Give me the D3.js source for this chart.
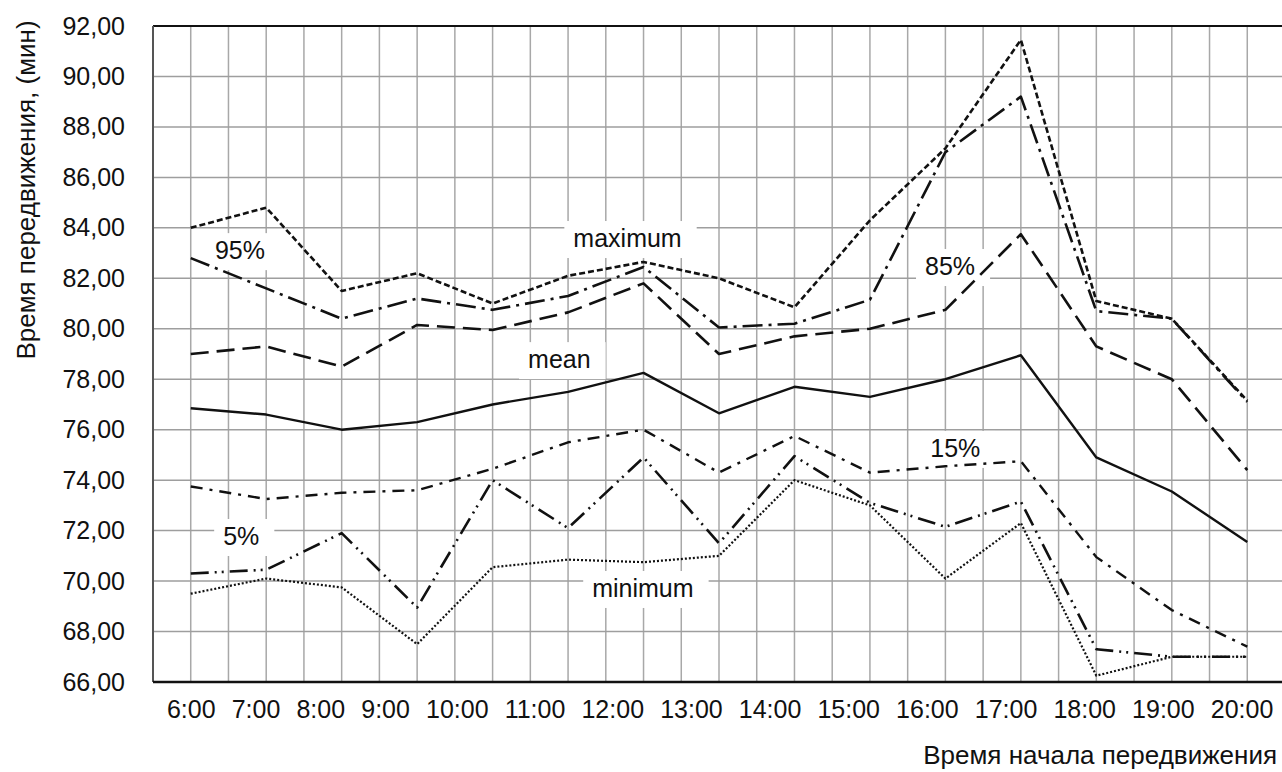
<!DOCTYPE html>
<html>
<head>
<meta charset="utf-8">
<script src="https://cdn.jsdelivr.net/npm/d3@7"></script>
<style>
  body { margin: 0; background: #fff; }
  text { font-family: Arial, "Liberation Sans", sans-serif; fill: #111; }
</style>
</head>
<body>
<div id="chart"></div>
<script>
// values (minutes)
const hours = ["6:00", "7:00", "8:00", "9:00", "10:00", "11:00", "12:00", "13:00",
  "14:00", "15:00", "16:00", "17:00", "18:00", "19:00", "20:00"];
const maximum = [84.0, 84.8, 81.5, 82.2, 81.0, 82.1, 82.65, 82.0, 80.85, 84.3, 87.15, 91.45, 81.1, 80.4, 77.15];
const p95 = [82.8, 81.6, 80.4, 81.2, 80.75, 81.3, 82.45, 80.05, 80.2, 81.15, 87.0, 89.2, 80.7, 80.4, 77.1];
const p85 = [79.0, 79.3, 78.5, 80.15, 79.95, 80.65, 81.8, 79.0, 79.7, 80.0, 80.75, 83.75, 79.3, 78.0, 74.4];
const mean = [76.85, 76.6, 76.0, 76.3, 77.0, 77.5, 78.25, 76.65, 77.7, 77.3, 78.0, 78.95, 74.9, 73.55, 71.55];
const p15 = [73.75, 73.25, 73.5, 73.6, 74.45, 75.5, 76.0, 74.3, 75.75, 74.3, 74.55, 74.75, 70.95, 68.85, 67.4];
const p5 = [70.3, 70.45, 71.9, 68.95, 74.0, 72.1, 74.9, 71.5, 74.95, 73.1, 72.15, 73.15, 67.3, 67.0, 67.0];
const minimum = [69.5, 70.1, 69.75, 67.5, 70.55, 70.85, 70.75, 71.0, 74.0, 73.0, 70.1, 72.3, 66.25, 67.0, 67.0];
const yTicks = d3.range(66, 93, 2);

const width = 1282, height = 772;
const margin = { top: 26, left: 153 };
const plotW = 1132, plotH = 656;

const series = [
  { values: maximum, dash: '6,3', w: 2.6 },
  { values: p95, dash: '20,6,3,6', w: 2.6 },
  { values: p85, dash: '18,8', w: 2.6 },
  { values: mean, dash: null, w: 2.4 },
  { values: p15, dash: '12,7,3,7', w: 2.4 },
  { values: p5, dash: '18,6,2,5,2,6', w: 2.6 },
  { values: minimum, dash: '2,2', w: 2.2 }
];

// labels placed in data units: [category offset, minutes]
const notes = [
  { text: 'maximum', at: [5.07, 83.24] },
  { text: '95%', at: [0.32, 82.76] },
  { text: '85%', at: [9.73, 82.13] },
  { text: 'mean', at: [4.47, 78.44] },
  { text: '15%', at: [9.8, 74.92] },
  { text: '5%', at: [0.43, 71.43] },
  { text: 'minimum', at: [5.32, 69.37] }
];

const x = d3.scalePoint().domain(hours).range([0, plotW]).padding(0.5);
const y = d3.scaleLinear().domain([66, 92]).range([plotH, 0]);
const fmt = d3.formatLocale({ decimal: ',', thousands: ' ', grouping: [3], currency: ['', ''] }).format('.2f');

const svg = d3.select('#chart').append('svg')
  .attr('width', width)
  .attr('height', height);

const g = svg.append('g')
  .attr('transform', 'translate(' + margin.left + ',' + margin.top + ')');

// grid
const half = x.step() / 2;
const vLines = hours.flatMap((h) => [x(h) - half, x(h)]).slice(1);
g.append('g').selectAll('line')
  .data(vLines)
  .enter().append('line')
    .attr('x1', (d) => d).attr('x2', (d) => d)
    .attr('y1', 0).attr('y2', plotH)
    .attr('stroke', '#a8a8a8')
    .attr('stroke-width', 1.5);
g.append('g').selectAll('line')
  .data(yTicks.slice(1, -1))
  .enter().append('line')
    .attr('x1', 0).attr('x2', plotW)
    .attr('y1', (d) => y(d)).attr('y2', (d) => y(d))
    .attr('stroke', '#9e9e9e')
    .attr('stroke-width', 1.5);

// frame
g.append('line').attr('x1', 0).attr('x2', plotW).attr('y1', 0).attr('y2', 0)
  .attr('stroke', '#111').attr('stroke-width', 2);
g.append('line').attr('x1', 0).attr('x2', 0).attr('y1', 0).attr('y2', plotH)
  .attr('stroke', '#555').attr('stroke-width', 2);
g.append('line').attr('x1', 0).attr('x2', plotW).attr('y1', plotH).attr('y2', plotH)
  .attr('stroke', '#111').attr('stroke-width', 2.4);

// axes
const yAxis = g.append('g')
  .call(d3.axisLeft(y).tickValues(yTicks).tickFormat(fmt).tickSize(0).tickPadding(28))
  .attr('font-family', 'Arial, "Liberation Sans", sans-serif')
  .attr('font-size', 25)
  .attr('color', '#111');
yAxis.select('.domain').remove();

const xAxis = g.append('g')
  .attr('transform', 'translate(0,' + plotH + ')')
  .call(d3.axisBottom(x).tickSize(0).tickPadding(18))
  .attr('font-family', 'Arial, "Liberation Sans", sans-serif')
  .attr('font-size', 25)
  .attr('color', '#111');
xAxis.select('.domain').remove();

// the hour labels run as one line of text, not under the points
const tickText = xAxis.selectAll('.tick text').nodes();
const tw = tickText.map((n) => n.getComputedTextLength());
const gap = 16.1;
let cursor = x(hours[0]) - tw[0] / 2;
tickText.forEach((n, i) => {
  d3.select(n).attr('x', cursor + tw[i] / 2 - x(hours[i]));
  cursor += tw[i] + gap;
});

// label boxes (white) under the lines
const noteX = (k) => x(hours[0]) + k * x.step();
const noteG = g.append('g');
notes.forEach((n) => {
  const t = noteG.append('text')
    .attr('x', noteX(n.at[0]))
    .attr('y', y(n.at[1]))
    .attr('font-size', 25)
    .text(n.text);
  const w = t.node().getComputedTextLength();
  noteG.insert('rect', 'text')
    .attr('x', noteX(n.at[0]) - 9)
    .attr('y', y(n.at[1]) - 26)
    .attr('width', w + 24)
    .attr('height', 37)
    .attr('fill', '#fff');
});

// lines
const line = d3.line()
  .x((d, i) => x(hours[i]))
  .y((d) => y(d));

series.forEach((s) => {
  g.append('path')
    .datum(s.values)
    .attr('d', line)
    .attr('fill', 'none')
    .attr('stroke', '#111')
    .attr('stroke-width', s.w)
    .attr('stroke-dasharray', s.dash)
    .attr('stroke-linejoin', 'round');
});

// titles
svg.append('text')
  .attr('transform', 'translate(35,190) rotate(-90)')
  .attr('text-anchor', 'middle')
  .attr('font-size', 26)
  .text('Время передвижения, (мин)');

svg.append('text')
  .attr('x', 1277)
  .attr('y', 764)
  .attr('text-anchor', 'end')
  .attr('font-size', 26)
  .text('Время начала передвижения');
</script>
</body>
</html>
